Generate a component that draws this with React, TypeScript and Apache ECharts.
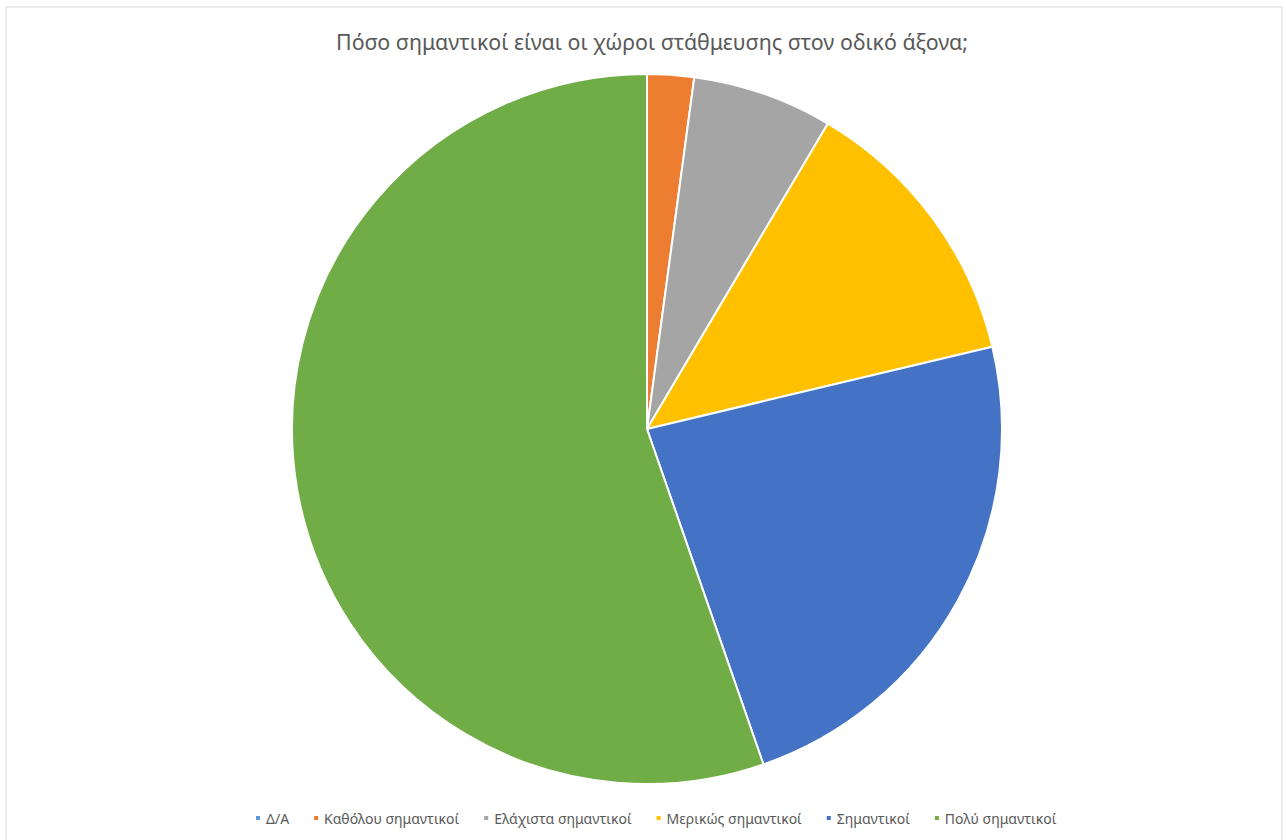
import React, { useEffect, useRef } from "react";
import * as echarts from "echarts";

const categories = ["Δ/Α", "Καθόλου σημαντικοί", "Ελάχιστα σημαντικοί", "Μερικώς σημαντικοί", "Σημαντικοί", "Πολύ σημαντικοί"];
const values = [0, 1, 3, 6, 11, 26];
const colors = ["#5B9BD5", "#ED7D31", "#A5A5A5", "#FFC000", "#4472C4", "#70AD47"];
const title = "Πόσο σημαντικοί είναι οι χώροι στάθμευσης στον οδικό άξονα;";

export default function App() {
  const ref = useRef<HTMLDivElement>(null);
  useEffect(() => {
    if (!ref.current) return;
    const chart = echarts.init(ref.current, undefined, { renderer: "svg" });
    chart.setOption({
      animation: false,
      backgroundColor: "#ffffff",
      color: colors,
      title: {
        text: title,
        left: 331,
        top: 26,
        textStyle: { fontFamily: "Noto Sans", fontSize: 21.4, fontWeight: "normal", color: "#595959" },
      },
      legend: {
        bottom: 10,
        left: 249,
        icon: "rect",
        itemWidth: 6,
        itemHeight: 6,
        itemGap: 23,
        textStyle: { fontFamily: "Noto Sans", fontSize: 14, color: "#595959" },
        data: categories,
      },
      graphic: [
        {
          type: "rect",
          shape: { x: 6, y: 7, width: 1276, height: 840 },
          style: { fill: "none", stroke: "#d9d9d9", lineWidth: 1 },
          silent: true,
        },
      ],
      series: [
        {
          type: "pie",
          center: [647, 429],
          radius: 355,
          startAngle: 90,
          clockwise: true,
          label: { show: false },
          labelLine: { show: false },
          itemStyle: { borderColor: "#ffffff", borderWidth: 2 },
          data: categories.map((c, i) => ({ name: c, value: values[i] })),
        },
      ],
    });
    return () => chart.dispose();
  }, []);
  return <div ref={ref} style={{ position: "fixed", left: 0, top: 0, width: 1286, height: 840 }} />;
}
